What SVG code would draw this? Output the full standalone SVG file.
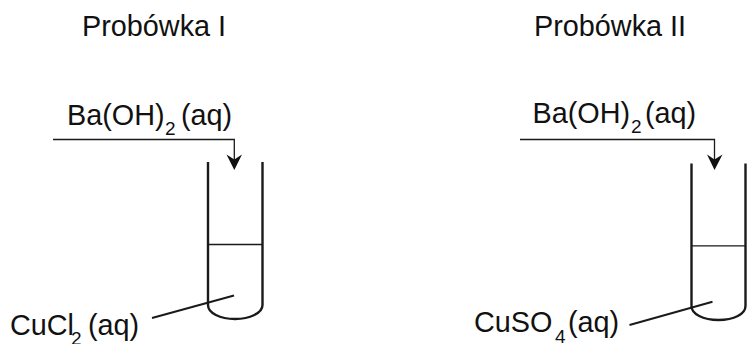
<svg xmlns="http://www.w3.org/2000/svg" width="747" height="344" viewBox="0 0 747 344">
<style>
text{font-family:"Liberation Sans",Arial,sans-serif;font-size:28.8px;fill:#111}
.s{font-size:19px}
.t{fill:none;stroke:#1a1a1a;stroke-width:2.4}
.c{fill:none;stroke:#1a1a1a;stroke-width:1.3}
.l{fill:none;stroke:#1a1a1a;stroke-width:2}
.h{fill:#111;stroke:none}
</style>
<rect width="747" height="344" fill="#fff"/>
<g id="title-1"><text x="82" y="36">Probówka I</text></g>
<g id="title-2"><text x="534" y="36">Probówka II</text></g>
<g id="tube-1">
<path class="t" d="M208 162V305C208 313 220 319 235 319S262.500 313 262.500 305V162"/>
<path class="c" d="M208 244.500H262"/>
</g>
<g id="tube-2">
<path class="t" d="M691.500 163.500V306C691.500 314 703 320 718.500 320S745.500 314 745.500 306V163.500"/>
<path class="c" d="M691.500 245.800H745"/>
</g>
<g id="label-reagent-1"><text x="67" y="125">Ba(OH)<tspan class="s" x="165" y="135">2</tspan><tspan x="181" y="125">(aq)</tspan></text></g>
<g id="label-reagent-2"><text x="532.500" y="123">Ba(OH)<tspan class="s" x="631" y="133">2</tspan><tspan x="645" y="123">(aq)</tspan></text></g>
<g id="label-solution-1"><text x="10" y="335">CuCl<tspan class="s" x="71" y="345">2</tspan><tspan x="88" y="335">(aq)</tspan></text></g>
<g id="label-solution-2"><text x="474" y="332">CuSO<tspan class="s" x="555" y="343">4</tspan><tspan x="568" y="332">(aq)</tspan></text></g>
<g id="connectors">
<path class="c" d="M53 139.500H234.300V160"/>
<path class="h" d="M226.500 154.500L234.300 159.500L242 154.500L234.300 170Z"/>
<path class="c" d="M520 139.500H714.500V160"/>
<path class="h" d="M707 154.500L714.500 159.500L722.500 154.500L714.500 170Z"/>
<path class="l" d="M152 318L234 295.500"/>
<path class="l" d="M629.500 325L712.500 301.700"/>
</g>
</svg>
